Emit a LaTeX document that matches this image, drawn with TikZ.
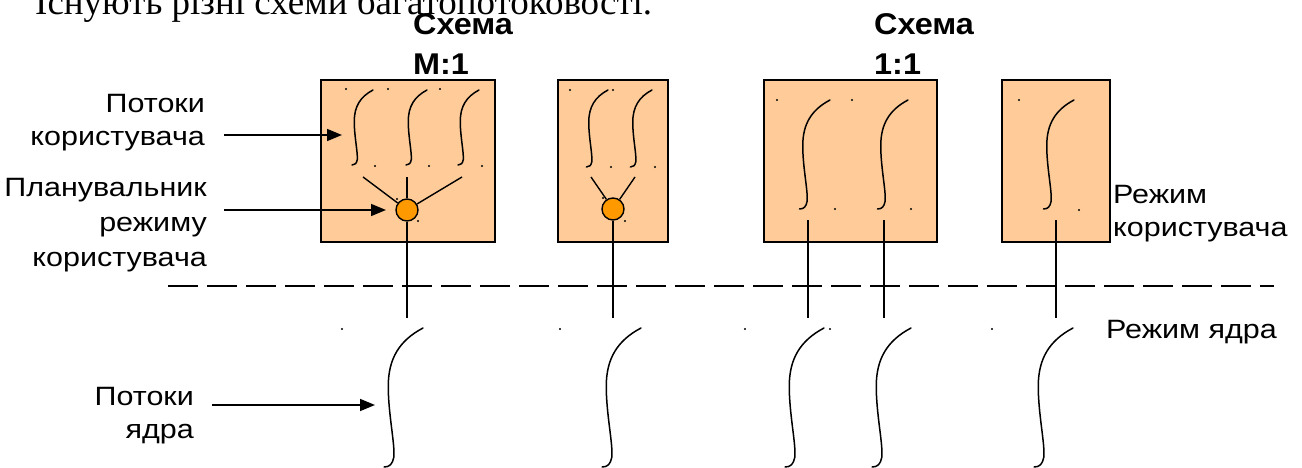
\documentclass[tikz,border=0pt]{standalone}
\usepackage{fontspec}
\setmainfont{Liberation Sans}[FakeStretch=1.15]
\newfontfamily\bodyserif{Liberation Serif}
\newfontfamily\titlefont{Liberation Sans Bold}[FakeStretch=1.08]
\usetikzlibrary{arrows.meta}
\definecolor{boxPeach}{HTML}{FFCC99}
\definecolor{schedOrange}{HTML}{FF9900}

\begin{document}
\begin{tikzpicture}[x=1pt, y=-1pt,
      lbl/.style={inner sep=0pt, align=right, font=\fontsize{26.5}{33}\selectfont},
      ttl/.style={inner sep=0pt, align=left, font=\titlefont\fontsize{30}{40}\selectfont},
      mode/.style={draw, line width=2pt, fill=boxPeach, minimum height=162pt},
      sched/.style={circle, draw, line width=1.4pt, fill=schedOrange, minimum size=22pt, inner sep=0pt},
      ln/.style={line width=1.4pt},
      arr/.style={line width=1.6pt, -{Triangle[length=15pt,width=12pt]}},
      thr/.style={line width=1.5pt, line cap=round},
      pics/thread/.style={code={
        \draw[thr] (0,0) .. controls (-0.17,0.09) and (-0.25,0.22) .. (-0.25,0.42)
          .. controls (-0.25,0.62) and (-0.2,0.84) .. (-0.21,0.93)
          .. controls (-0.22,0.98) and (-0.24,1) .. (-0.28,1);}}]
    \useasboundingbox (0,0) rectangle (1302,468);

    % line of the page above, cut off
    \begin{scope}
      \clip (0,0) rectangle (1302,468);
      \node[anchor=base west, inner sep=0pt, font=\bodyserif\fontsize{37}{40}\selectfont] (intro) at (35,15) {Існують різні схеми багатопотоковості.};
    \end{scope}

    % processes
    \node[mode, minimum width=174pt] (m1) at (408,161)   {};
    \node[mode, minimum width=110pt] (m2) at (613,161)   {};
    \node[mode, minimum width=173pt] (m3) at (850.5,161) {};
    \node[mode, minimum width=108pt] (m4) at (1056,161)  {};
    \node[ttl, anchor=north west] (t1) at (413,13) {Схема\\M:1};
    \node[ttl, anchor=north west] (t2) at (874,13) {Схема\\1:1};

    % user threads
    \pic[scale=75] at (373,90) {thread};
    \pic[scale=75] at (427,90) {thread};
    \pic[scale=75] at (479,90) {thread};
    \pic[scale=77] at (608,90) {thread};
    \pic[scale=77] at (652,90) {thread};
    \pic[scale=109] at (830,100) {thread};
    \pic[scale=109] at (908,100) {thread};
    \pic[scale=109] at (1074,100) {thread};

    % kernel threads
    \pic[scale=139] at (423,328) {thread};
    \pic[scale=139] at (641,328) {thread};
    \pic[scale=139] at (824,328) {thread};
    \pic[scale=139] at (911,328) {thread};
    \pic[scale=139] at (1073,328) {thread};

    \foreach \x/\y in {346/89, 388/89, 440/89, 375/166, 429/166, 482/166, 397/199, 418/221,
        570/90, 613/90, 611/167, 655/167, 603/198, 625/221,
        777/100, 852/100, 835/209, 911/209, 1019/100, 1079/210,
        342/329, 560/329, 745/329, 830/329, 992/329}
      \fill (\x,\y) circle (1.1pt);

    % user / kernel border
    \coordinate (bl) at (168,286);
    \coordinate (br) at (1274,286);
    \draw[ln, dash pattern=on 30pt off 9pt] (bl) -- (br);

    % schedulers and links
    \node[sched] (s1) at (407,210) {};
    \node[sched] (s2) at (613,209) {};
    \coordinate (s1l) at (363,177);
    \coordinate (s1t) at (407,177);
    \coordinate (s1r) at (462,177);
    \coordinate (k1)  at (407,318);
    \coordinate (s2l) at (591,177);
    \coordinate (s2r) at (635,177);
    \coordinate (k2)  at (613,318);
    \coordinate (u3a) at (808,220);
    \coordinate (k3a) at (808,318);
    \coordinate (u3b) at (884,220);
    \coordinate (k3b) at (884,318);
    \coordinate (u4)  at (1056,220);
    \coordinate (k4)  at (1056,318);
    \draw[ln] (s1) -- (s1l);
    \draw[ln] (s1) -- (s1t);
    \draw[ln] (s1) -- (s1r);
    \draw[ln] (s1) -- (k1);
    \draw[ln] (s2) -- (s2l);
    \draw[ln] (s2) -- (s2r);
    \draw[ln] (s2) -- (k2);
    \draw[ln] (u3a) -- (k3a);
    \draw[ln] (u3b) -- (k3b);
    \draw[ln] (u4) -- (k4);

    % labels
    \node[lbl, anchor=north east] (ut) at (205,94) {Потоки\\користувача};
    \node[lbl, anchor=north east, font=\fontsize{26.5}{35}\selectfont] (us) at (207,178) {Планувальник\\режиму\\користувача};
    \node[lbl, anchor=north east] (kt) at (194,387) {Потоки\\ядра};
    \node[lbl, anchor=north west, align=left] (um) at (1113,185) {Режим\\користувача};
    \node[lbl, anchor=north west] (km) at (1106,320) {Режим ядра};
    \coordinate (a1) at (224,135);
    \coordinate (b1) at (342,135);
    \coordinate (a2) at (224,210);
    \coordinate (b2) at (386,210);
    \coordinate (a3) at (212,405);
    \coordinate (b3) at (375,405);
    \draw[arr] (a1) -- (b1);
    \draw[arr] (a2) -- (b2);
    \draw[arr] (a3) -- (b3);
\end{tikzpicture}
\end{document}
